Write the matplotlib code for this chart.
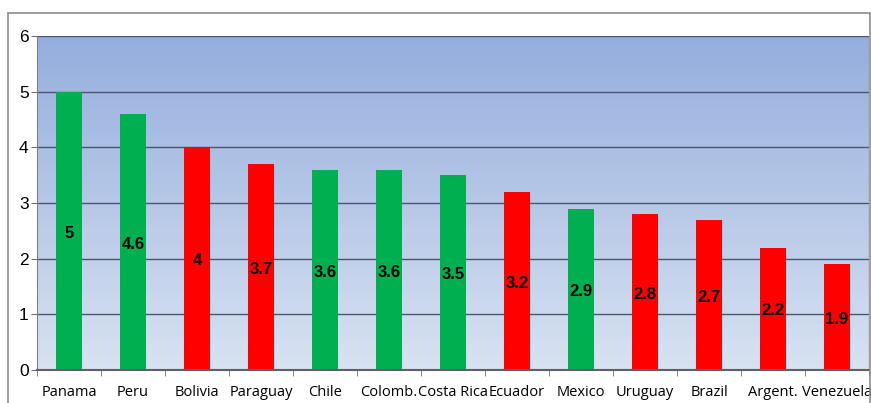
import numpy as np
import matplotlib.pyplot as plt
from matplotlib.patches import Rectangle

countries = ["Panama", "Peru", "Bolivia", "Paraguay", "Chile", "Colomb.", "Costa Rica",
             "Ecuador", "Mexico", "Uruguay", "Brazil", "Argent.", "Venezuela"]
values = [5, 4.6, 4, 3.7, 3.6, 3.6, 3.5, 3.2, 2.9, 2.8, 2.7, 2.2, 1.9]
group = ["g", "g", "r", "r", "g", "g", "g", "r", "g", "r", "r", "r", "r"]

colors = {"g": "#00b050", "r": "#ff0000"}

W, H = 871, 403
fig = plt.figure(figsize=(W / 100, H / 100), dpi=100)

# outer chart frame
fig.patches.append(Rectangle((8 / W, -0.1), (W - 9) / W, 1.1 - 13 / H, transform=fig.transFigure,
                             fill=False, edgecolor="#8c8c8c", linewidth=1.2))

left, right, top, bottom = 37, 869, 36, 370
ax = fig.add_axes([left / W, 1 - bottom / H, (right - left) / W, (bottom - top) / H])

n = len(countries)
x = np.arange(n)

# vertical gradient background
grad = np.linspace(0, 1, 256).reshape(-1, 1)
c_top = np.array([0x95, 0xae, 0xde]) / 255
c_bot = np.array([0xd8, 0xe2, 0xf1]) / 255
img = c_top + (c_bot - c_top) * grad[..., None]
img = img.reshape(256, 1, 3)
ax.imshow(img, extent=(-0.5, n - 0.5, 0, 6), aspect="auto", origin="upper", zorder=0)

ax.set_xlim(-0.5, n - 0.5)
ax.set_ylim(0, 6)

for yv in range(1, 7):
    ax.axhline(yv, color="#4a5670", linewidth=1.0, zorder=1)

bars = ax.bar(x, values, width=0.4, color=[colors[g] for g in group], zorder=2)
for xi, v in zip(x, values):
    ax.text(xi, v / 2 - 0.04, f"{v:g}", ha="center", va="center", fontsize=12,
            fontweight="bold", family="Liberation Sans", color="black", zorder=3)

ax.set_yticks(range(0, 7))
ax.set_yticklabels([str(i) for i in range(0, 7)], fontsize=12.5, family="Liberation Sans")
ax.set_xticks(x)
ax.set_xticklabels(countries, fontsize=10.5, family="Open Sans")
ax.set_xticks(np.arange(-0.5, n, 1), minor=True)
ax.tick_params(axis="x", which="major", length=0, pad=11)
ax.tick_params(axis="x", which="minor", length=4, color="#707070")
ax.tick_params(axis="y", length=4, color="#707070", pad=2)

for s in ["top", "right"]:
    ax.spines[s].set_visible(False)
ax.spines["left"].set_color("#808080")
ax.spines["bottom"].set_color("#606060")
ax.spines["bottom"].set_linewidth(1.5)
ax.axvline(n - 0.5, color="#8090b0", linewidth=1.0, zorder=1)

fig.savefig("out.png", dpi=100)
